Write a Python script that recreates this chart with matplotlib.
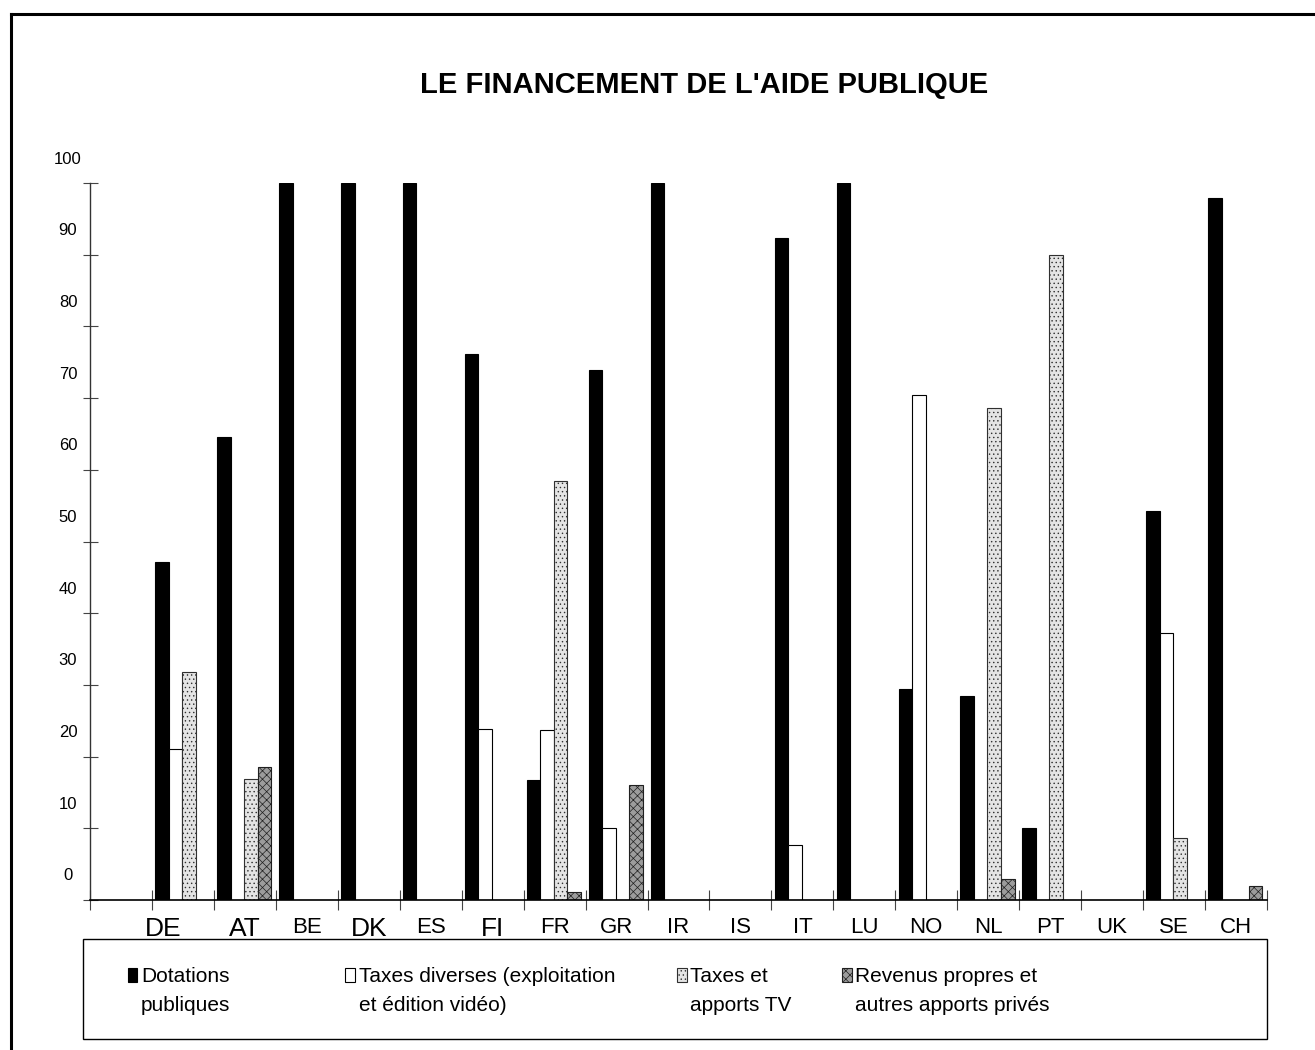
import matplotlib
matplotlib.use("Agg")
import numpy as np
import matplotlib.pyplot as plt
from matplotlib.patches import Rectangle
from matplotlib.lines import Line2D
from matplotlib.transforms import ScaledTranslation

police = "Liberation Sans"

# Données (% du financement)
pays = ["DE", "AT", "BE", "DK", "ES", "FI", "FR", "GR", "IR", "IS",
        "IT", "LU", "NO", "NL", "PT", "UK", "SE", "CH"]
dotations = [47.2, 64.6, 100, 100, 100, 76.2, 16.7, 73.9, 100, 0,
             92.3, 100, 29.4, 28.4, 10.0, 0, 54.2, 97.9]
taxes_diverses = [21.0, 0, 0, 0, 0, 23.8, 23.7, 10.0, 0, 0,
                  7.7, 0, 70.5, 0, 0, 0, 37.2, 0]
taxes_tv = [31.8, 16.9, 0, 0, 0, 0, 58.4, 0, 0, 0,
            0, 0, 0, 68.6, 90.0, 0, 8.6, 0]
revenus_propres = [0, 18.5, 0, 0, 0, 0, 1.1, 16.0, 0, 0,
                   0, 0, 0, 2.9, 0, 0, 0, 2.0]
grands_labels = ["DE", "AT", "DK", "FI"]
graduations = list(range(0, 101, 10))

series = [
    ("Dotations\npubliques", dotations,
     dict(facecolor="black", edgecolor="black", linewidth=0.8)),
    ("Taxes diverses (exploitation\net édition vidéo)", taxes_diverses,
     dict(facecolor="white", edgecolor="black", linewidth=0.8)),
    ("Taxes et\napports TV", taxes_tv,
     dict(facecolor="#e4e4e4", edgecolor="#303030", hatch="....", linewidth=0.8)),
    ("Revenus propres et\nautres apports privés", revenus_propres,
     dict(facecolor="#9c9c9c", edgecolor="#202020", hatch="xxxx", linewidth=0.8)),
]

plt.rcParams["hatch.linewidth"] = 0.5

W, H = 1315, 1050
fig = plt.figure(figsize=(W / 100, H / 100), dpi=100)
ax = fig.add_axes([90 / W, 150 / H, 1177 / W, 717 / H])

x = np.arange(1, len(pays) + 1)
largeur = 0.218
for k, (nom, valeurs, style) in enumerate(series):
    ax.bar(x - 0.339 + k * largeur, valeurs, width=largeur, **style)

ax.set_xlim(-0.5, len(pays) + 0.5)
ax.set_ylim(0, 100)
for cote in ["top", "right"]:
    ax.spines[cote].set_visible(False)
ax.spines["left"].set_color("#333333")
ax.spines["bottom"].set_color("black")
ax.spines["left"].set_linewidth(1.0)
ax.spines["bottom"].set_linewidth(1.2)

# Séparateurs entre pays et noms des pays
ax.set_xticks(np.arange(-0.5, len(pays) + 1, 1))
ax.set_xticklabels([])
ax.set_xticks(x, minor=True)
ax.set_xticklabels(pays, minor=True, family=police, fontsize=16)
ax.tick_params(axis="x", which="major", direction="inout", length=14.4,
               width=0.8, color="#444444")
ax.tick_params(axis="x", which="minor", length=0, pad=12)
for lbl in ax.get_xticklabels(minor=True):
    if lbl.get_text() in grands_labels:
        lbl.set_fontsize(19)
    if lbl.get_text() == "DE":
        lbl.set_transform(lbl.get_transform()
                          + ScaledTranslation(-0.2, 0, fig.dpi_scale_trans))

# Axe vertical : graduations, libellés décalés vers le haut
ax.set_yticks(graduations)
ax.tick_params(axis="y", direction="inout", length=10.8, width=0.8,
               color="#444444", labelleft=False)
decalage = ax.get_yaxis_transform() + ScaledTranslation(0, 0.24, fig.dpi_scale_trans)
for v in graduations:
    ax.text(-22 / 1177, v, str(v), transform=decalage, ha="center", va="center",
            fontsize=12, family=police)

fig.text(704 / W, 1 - 93 / H, "LE FINANCEMENT DE L'AIDE PUBLIQUE",
         ha="center", va="baseline", fontsize=21, fontweight="bold", family=police)

# Cadre extérieur
fig.add_artist(Line2D([11 / W, 1], [1 - 14 / H] * 2, transform=fig.transFigure,
                      color="black", linewidth=2.2))
fig.add_artist(Line2D([11 / W] * 2, [0, 1 - 14 / H], transform=fig.transFigure,
                      color="black", linewidth=2.2))

# Légende
fig.add_artist(Rectangle((83 / W, 11 / H), 1184 / W, 100 / H, transform=fig.transFigure,
                         fill=False, edgecolor="black", linewidth=1.0))
cles_x = [128, 345, 677, 842]
textes_x = [141, 359, 690, 855]
for (nom, valeurs, style), cx, tx in zip(series, cles_x, textes_x):
    fig.add_artist(Rectangle((cx / W, 1 - 982 / H), 9.5 / W, 14 / H,
                             transform=fig.transFigure, **style))
    fig.text(tx / W, 1 - 967 / H, nom, ha="left", va="top", fontsize=15,
             family=police, linespacing=1.65)

fig.savefig("out.png", dpi=100)
